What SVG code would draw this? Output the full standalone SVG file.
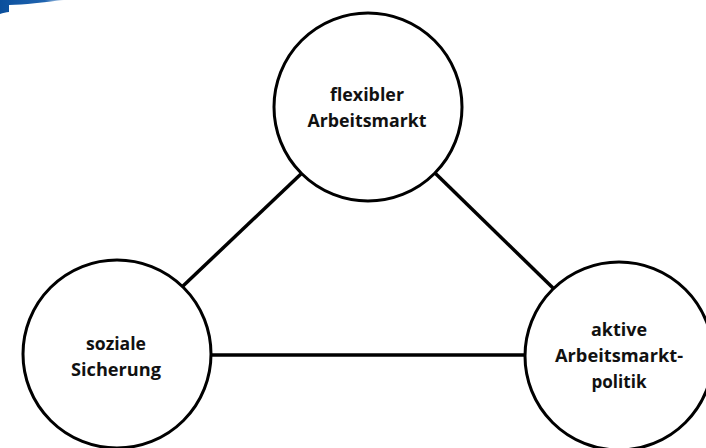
<svg xmlns="http://www.w3.org/2000/svg" width="706" height="448" viewBox="0 0 706 448">
  <defs>
    <linearGradient id="swoosh" x1="0" y1="0" x2="1" y2="0">
      <stop offset="0" stop-color="#0b4f9c"/>
      <stop offset="0.7" stop-color="#1f64b0"/>
      <stop offset="1" stop-color="#cfe0f2"/>
    </linearGradient>
  </defs>
  <style>
    .node { fill: #ffffff; stroke: #000000; stroke-width: 3; }
    .edge { stroke: #000000; stroke-width: 3.5; fill: none; }
    .label { font-family: "Open Sans", "Noto Sans", sans-serif; font-weight: 700; font-size: 17px; fill: #111111; text-anchor: middle; }
  </style>
  <rect x="0" y="0" width="706" height="448" fill="#ffffff"/>
  <!-- blue corner band -->
  <path d="M0,0 H64 C44,2 24,5 9,5 V12 C6,12 3,13 0,14 Z" fill="url(#swoosh)"/>

  <g id="connectors">
    <line class="edge" x1="302" y1="173" x2="183" y2="286"/>
    <line class="edge" x1="435" y1="173" x2="553" y2="288"/>
    <line class="edge" x1="211" y1="355" x2="526" y2="355"/>
  </g>

  <g id="flexibler-arbeitsmarkt">
    <circle class="node" cx="368" cy="107" r="94"/>
    <text class="label" x="367" y="101" textLength="74" lengthAdjust="spacingAndGlyphs">flexibler</text>
    <text class="label" x="367" y="127" textLength="119" lengthAdjust="spacingAndGlyphs">Arbeitsmarkt</text>
  </g>

  <g id="soziale-sicherung">
    <circle class="node" cx="117" cy="354" r="94"/>
    <text class="label" x="116" y="350" textLength="60" lengthAdjust="spacingAndGlyphs">soziale</text>
    <text class="label" x="116" y="376" textLength="90" lengthAdjust="spacingAndGlyphs">Sicherung</text>
  </g>

  <g id="aktive-arbeitsmarktpolitik">
    <circle class="node" cx="619" cy="356" r="94"/>
    <text class="label" x="619" y="336" textLength="56" lengthAdjust="spacingAndGlyphs">aktive</text>
    <text class="label" x="619" y="362" textLength="128" lengthAdjust="spacingAndGlyphs">Arbeitsmarkt-</text>
    <text class="label" x="619" y="388" textLength="55" lengthAdjust="spacingAndGlyphs">politik</text>
  </g>
</svg>
